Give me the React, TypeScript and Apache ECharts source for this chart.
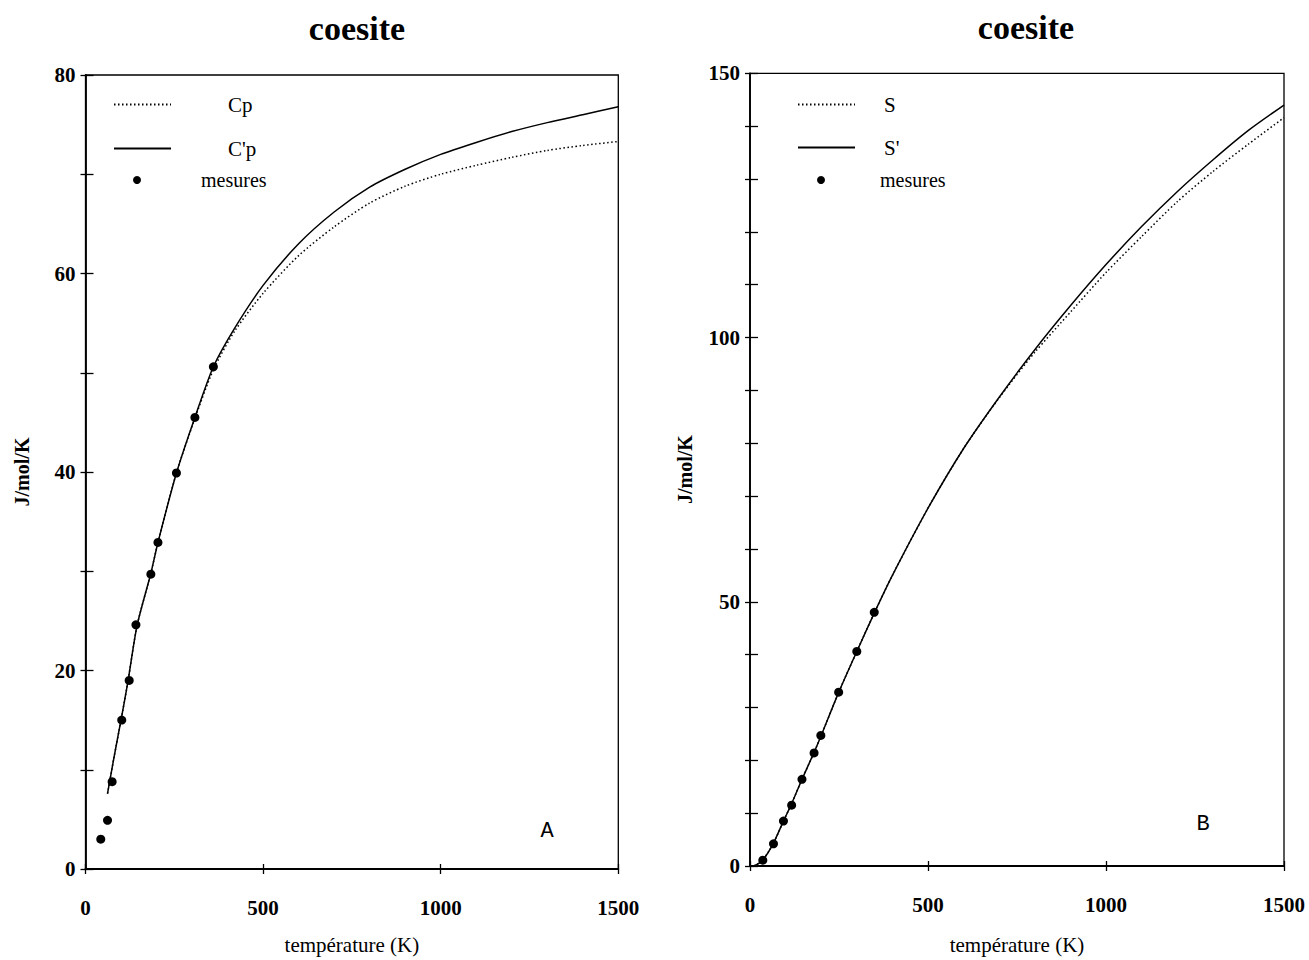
import React, { useEffect, useRef } from "react";
import * as echarts from "echarts";

// ---- Panel A : heat capacity ----
const cpT = [62, 80, 100, 120, 145, 184, 204, 256, 308, 360, 420, 500, 600, 700, 800, 900, 1000, 1100, 1200, 1300, 1400, 1500];
const cpDotted = [7.6, 11.2, 15.0, 19.0, 24.5, 29.8, 32.9, 39.9, 45.4, 50.3, 54.2, 58.0, 61.8, 64.7, 67.1, 68.8, 70.0, 70.9, 71.7, 72.4, 72.9, 73.3];
const cpSolid = [7.6, 11.2, 15.0, 19.0, 24.5, 29.8, 32.9, 39.9, 45.5, 50.6, 54.5, 58.8, 63.0, 66.2, 68.7, 70.5, 72.0, 73.2, 74.3, 75.2, 76.0, 76.8];
const cpMesT = [43, 62, 75, 102, 123, 142, 184, 204, 256, 308, 360];
const cpMes = [3.0, 4.9, 8.8, 15.0, 19.0, 24.6, 29.7, 32.9, 39.9, 45.5, 50.6];

// ---- Panel B : entropy ----
const sT = [10, 20, 36, 65, 94, 117, 146, 180, 200, 250, 300, 350, 400, 500, 600, 700, 800, 900, 1000, 1100, 1200, 1300, 1400, 1500];
const sSolid = [0, 0.3, 1.1, 4.2, 8.5, 11.8, 16.4, 21.5, 24.7, 33.0, 40.6, 48.0, 55.0, 67.7, 79.0, 88.7, 97.7, 106.0, 113.8, 121.0, 127.6, 133.6, 139.2, 144.0];
const sDotted = [0, 0.3, 1.1, 4.2, 8.5, 11.8, 16.4, 21.5, 24.7, 33.0, 40.6, 48.0, 55.0, 67.7, 79.0, 88.6, 97.2, 104.8, 112.3, 119.1, 125.7, 131.4, 136.6, 141.6];
const sMesT = [36, 66, 94, 117, 146, 180, 199, 249, 300, 349];
const sMes = [1.1, 4.2, 8.5, 11.5, 16.4, 21.4, 24.7, 32.9, 40.6, 48.0];

const titleText = "coesite";
const yName = "J/mol/K";
const xName = "température (K)";

const zip = (xs: number[], ys: number[]) => xs.map((x, i) => [x, ys[i]]);

const SERIF = "'Liberation Serif', 'Times New Roman', serif";
const BLACK = "#000";

function axisPair(kind: "x" | "y", gridIndex: number, opts: any) {
  const base = {
    gridIndex,
    type: "value",
    min: opts.min,
    max: opts.max,
    interval: opts.interval,
    splitLine: { show: false },
    position: kind === "x" ? "bottom" : "left",
  };
  const main = {
    ...base,
    axisLine: { show: true, lineStyle: { color: BLACK, width: 1.8 } },
    axisTick: { show: true, inside: true, length: opts.inLen, lineStyle: { color: BLACK, width: 1.3 } },
    axisLabel: {
      show: true,
      margin: opts.labelMargin,
      fontFamily: SERIF,
      fontWeight: "bold",
      fontSize: 21,
      color: BLACK,
      formatter: (v: number) => (v % opts.labelEvery === 0 ? String(v) : ""),
    },
    name: opts.name,
    nameLocation: "middle",
    nameGap: opts.nameGap,
    nameTextStyle: opts.nameTextStyle,
  };
  const outer = {
    ...base,
    axisLine: { show: false },
    axisTick: { show: true, inside: false, length: opts.outLen, lineStyle: { color: BLACK, width: 1.3 } },
    axisLabel: { show: false },
  };
  return [main, outer];
}

export default function App() {
  const ref = useRef<HTMLDivElement>(null);
  useEffect(() => {
    if (!ref.current) return;
    const chart = echarts.init(ref.current, undefined, { renderer: "svg" });
    const xNameStyle = { fontFamily: SERIF, fontSize: 21, color: BLACK };
    const yNameStyle = { fontFamily: SERIF, fontSize: 20, fontWeight: "bold", color: BLACK };
    const xA = axisPair("x", 0, { min: 0, max: 1500, interval: 500, inLen: 5, outLen: 5, labelMargin: 28, labelEvery: 500, name: xName, nameGap: 65, nameTextStyle: xNameStyle });
    const yA = axisPair("y", 0, { min: 0, max: 80, interval: 10, inLen: 8, outLen: 5, labelMargin: 10, labelEvery: 20, name: yName, nameGap: 54, nameTextStyle: yNameStyle });
    const xB = axisPair("x", 1, { min: 0, max: 1500, interval: 500, inLen: 5, outLen: 5, labelMargin: 28, labelEvery: 500, name: xName, nameGap: 68, nameTextStyle: xNameStyle });
    const yB = axisPair("y", 1, { min: 0, max: 150, interval: 10, inLen: 8, outLen: 5, labelMargin: 10, labelEvery: 50, name: yName, nameGap: 55, nameTextStyle: yNameStyle });

    const legendText = { fontFamily: SERIF, fontSize: 21, color: BLACK };
    const lineLegend = (name: string, left: number, top: number, gap: number) => ({
      data: [name],
      left,
      top,
      padding: 0,
      orient: "vertical",
      itemWidth: 57,
      itemHeight: 14,
      selectedMode: false,
      itemStyle: { opacity: 0 },
      textStyle: { ...legendText, padding: [0, 0, 0, gap] },
    });
    const dotLegend = (left: number, top: number, gap: number) => ({
      data: [{ name: "mesures", icon: "circle" }],
      left,
      top,
      padding: 0,
      itemWidth: 8,
      itemHeight: 8,
      selectedMode: false,
      itemStyle: { color: BLACK, opacity: 1 },
      textStyle: { ...legendText, fontSize: 20, padding: [0, 0, 0, gap] },
    });

    const lineSeries = (name: string, xi: number, yi: number, data: number[][], dotted: boolean) => ({
      type: "line",
      name,
      xAxisIndex: xi,
      yAxisIndex: yi,
      data,
      symbol: "none",
      smooth: 0.25,
      lineStyle: { color: BLACK, width: 1.5, type: dotted ? [1.5, 2.5] : "solid" },
      itemStyle: { color: BLACK },
      z: 3,
    });
    const dotSeries = (xi: number, yi: number, data: number[][]) => ({
      type: "scatter",
      name: "mesures",
      xAxisIndex: xi,
      yAxisIndex: yi,
      data,
      symbol: "circle",
      symbolSize: 9,
      itemStyle: { color: BLACK, opacity: 1 },
      z: 4,
    });

    chart.setOption({
      animation: false,
      backgroundColor: "#fff",
      grid: [
        { left: 85.5, top: 75, width: 532.8, height: 801.7, show: true, borderColor: BLACK, borderWidth: 1.3, backgroundColor: "transparent" },
        { left: 750, top: 73.3, width: 534, height: 800, show: true, borderColor: BLACK, borderWidth: 1.3, backgroundColor: "transparent" },
      ],
      xAxis: [xA[0], xA[1], xB[0], xB[1]],
      yAxis: [yA[0], yA[1], yB[0], yB[1]],
      legend: [
        lineLegend("Cp", 113, 94, 52),
        lineLegend("C'p", 113, 138, 52),
        dotLegend(133, 170, 55),
        lineLegend("S", 797, 94, 24),
        lineLegend("S'", 797, 137, 24),
        dotLegend(817, 170, 50),
      ],
      series: [
        lineSeries("Cp", 0, 0, zip(cpT, cpDotted), true),
        lineSeries("C'p", 0, 0, zip(cpT, cpSolid), false),
        dotSeries(0, 0, zip(cpMesT, cpMes)),
        lineSeries("S", 2, 2, zip(sT, sDotted), true),
        lineSeries("S'", 2, 2, zip(sT, sSolid), false),
        dotSeries(2, 2, zip(sMesT, sMes)),
      ],
      graphic: [
        { type: "text", x: 357, y: 28, style: { text: titleText, fontFamily: SERIF, fontWeight: "bold", fontSize: 34, fill: BLACK, align: "center", verticalAlign: "middle" } },
        { type: "text", x: 1026, y: 27, style: { text: titleText, fontFamily: SERIF, fontWeight: "bold", fontSize: 34, fill: BLACK, align: "center", verticalAlign: "middle" } },
        { type: "text", x: 547, y: 831, style: { text: "A", fontFamily: "'Liberation Mono', monospace", fontSize: 22, fill: BLACK, align: "center", verticalAlign: "middle" } },
        { type: "text", x: 1203, y: 824, style: { text: "B", fontFamily: "'Liberation Mono', monospace", fontSize: 22, fill: BLACK, align: "center", verticalAlign: "middle" } },
      ],
    });
    return () => chart.dispose();
  }, []);
  return <div ref={ref} style={{ position: "absolute", left: 0, top: 0, width: 1309, height: 960 }} />;
}
